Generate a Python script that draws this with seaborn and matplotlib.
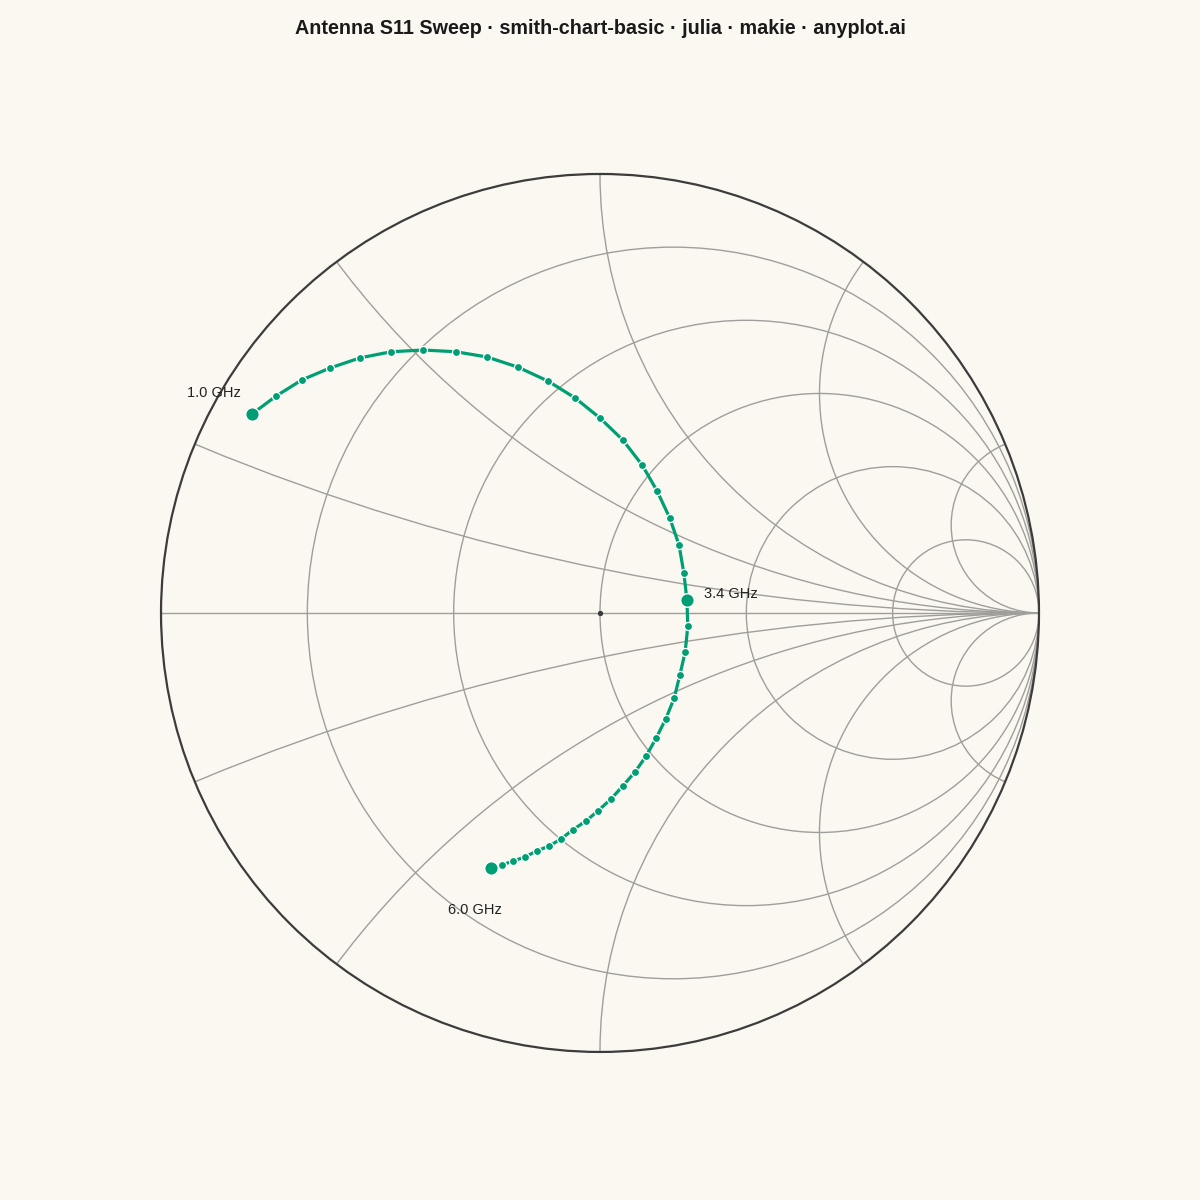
import numpy as np
import pandas as pd
import matplotlib
matplotlib.use("Agg")
import matplotlib.pyplot as plt
from matplotlib.patches import Circle
import seaborn as sns


# -----------------------------
# Data (reflection coefficient)
# -----------------------------
GAMMA_RE = [-0.793, -0.738, -0.679, -0.615, -0.547, -0.476, -0.403, -0.328,
            -0.257, -0.187, -0.118, -0.057, 0.000, 0.052, 0.096, 0.130,
            0.159, 0.180, 0.191, 0.198,
            0.200, 0.194, 0.182, 0.169, 0.150, 0.128, 0.105, 0.080,
            0.052, 0.025, -0.005, -0.032, -0.062, -0.089, -0.116, -0.144,
            -0.171, -0.198, -0.223, -0.248]
GAMMA_IM = [0.453, 0.494, 0.531, 0.558, 0.581, 0.595, 0.599, 0.595,
            0.583, 0.560, 0.528, 0.490, 0.444, 0.394, 0.337, 0.278,
            0.216, 0.155, 0.091, 0.030,
            -0.030, -0.089, -0.141, -0.194, -0.241, -0.285, -0.326, -0.362,
            -0.394, -0.424, -0.451, -0.474, -0.494, -0.515, -0.531, -0.542,
            -0.556, -0.565, -0.574, -0.581]

LABEL_IDX = [0, 19, 39]
LABEL_TEXT = ["1.0 GHz", "3.4 GHz", "6.0 GHz"]
LABEL_OFFSET = [(-27, 15), (12, 4), (-12, -30)]
LABEL_HA = ["center", "left", "center"]

R_VALUES = [0.2, 0.5, 1, 2, 5]
X_VALUES = [0.2, 0.5, 1, 2, 5]

BG = "#FAF8F1"
GREEN = "#009E73"
GRID = "#A09E9A"
EDGE = "#3C3C3C"

sns.set_theme(style="white")
plt.rcParams["font.family"] = ["Liberation Sans", "DejaVu Sans"]

df = pd.DataFrame({"re": GAMMA_RE, "im": GAMMA_IM})

fig = plt.figure(figsize=(12, 12), dpi=100, facecolor=BG)
ax = fig.add_axes([0.0976, 0.0868, 0.8048, 0.8048])
ax.set_facecolor(BG)
ax.set_xlim(-1.1, 1.1)
ax.set_ylim(-1.1, 1.1)
ax.set_aspect("equal")
ax.axis("off")

# -----------------------------
# Smith grid
# -----------------------------
clip = Circle((0, 0), 1, transform=ax.transData, fill=False, lw=0)
ax.add_patch(clip)
clip.set_visible(False)

for r in R_VALUES:
    c = Circle((r / (1 + r), 0), 1 / (1 + r), fill=False, ec=GRID, lw=1.0, zorder=1)
    ax.add_patch(c)
    c.set_clip_path(clip)

for x in X_VALUES:
    for s in (1, -1):
        c = Circle((1, s / x), 1 / x, fill=False, ec=GRID, lw=1.0, zorder=1)
        ax.add_patch(c)
        c.set_clip_path(clip)

ax.plot([-1, 1], [0, 0], color=GRID, lw=1.0, zorder=1)
ax.add_patch(Circle((0, 0), 1, fill=False, ec=EDGE, lw=1.6, zorder=3))
ax.scatter([0], [0], s=8, color=EDGE, zorder=3)

# -----------------------------
# S11 trace
# -----------------------------
sns.lineplot(data=df, x="re", y="im", sort=False, estimator=None,
             color=GREEN, lw=2.3, ax=ax, zorder=4)
sns.scatterplot(data=df, x="re", y="im", color=GREEN, s=34,
                edgecolor="white", linewidth=0.9, ax=ax, zorder=5)
sns.scatterplot(data=df.iloc[LABEL_IDX], x="re", y="im", color=GREEN, s=95,
                edgecolor="white", linewidth=1.0, ax=ax, zorder=6)

for i, txt, off, ha in zip(LABEL_IDX, LABEL_TEXT, LABEL_OFFSET, LABEL_HA):
    ax.annotate(txt, (GAMMA_RE[i], GAMMA_IM[i]), xytext=off,
                textcoords="offset points", ha=ha, va="center",
                fontsize=10.5, color="#222222", zorder=7)

ax.set_xlabel("")
ax.set_ylabel("")

fig.suptitle("Antenna S11 Sweep · smith-chart-basic · julia · makie · anyplot.ai",
             y=0.984, fontsize=14.2, fontweight="bold", color="#1A1A1A")

fig.savefig("out.png", dpi=100, facecolor=BG)
